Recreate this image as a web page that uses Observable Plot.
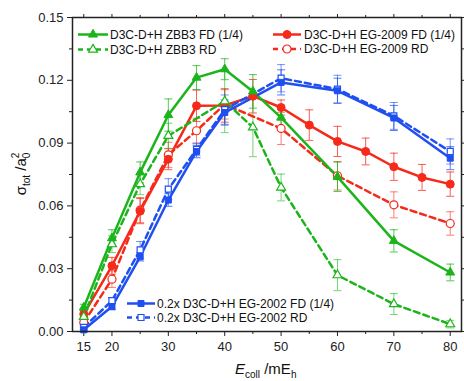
<!DOCTYPE html>
<html><head><meta charset="utf-8">
<script src="https://cdn.jsdelivr.net/npm/d3@7"></script>
<script src="https://cdn.jsdelivr.net/npm/@observablehq/plot@0.6"></script>
<style>body{margin:0;background:#fff;} svg{display:block;}</style>
</head><body><div id="chart"></div>
<script>
// ---- data ----
const xZbbFD = [15,20,25,30,35,40,45,50,60,70,80];
const zbbFD = [0.0115,0.0446,0.0760,0.1034,0.1213,0.1253,0.1147,0.1022,0.0739,0.0433,0.0282];
const zbbFDErr = [0.0015,0.004,0.005,0.0077,0.0057,0.005,0.008,0.005,0.007,0.0053,0.004];

const xZbbRD = [15,20,25,30,40,45,50,60,70,80];
const zbbRD = [0.007,0.0417,0.0704,0.0935,0.110,0.0975,0.0688,0.0269,0.0131,0.0035];
const zbbRDErr = [0.002,0.004,0.005,0.006,0.015,0.014,0.0064,0.0074,0.005,0.0018];

const xEg09FD = [15,20,25,30,35,40,45,50,55,60,65,70,75,80];
const eg09FD = [0.0083,0.0314,0.0575,0.0823,0.1078,0.1080,0.1124,0.1070,0.0986,0.0908,0.0860,0.0787,0.0736,0.0704];
const eg09FDErr = [0.0015,0.004,0.006,0.005,0.0075,0.008,0.008,0.0036,0.0073,0.0072,0.0064,0.0065,0.0062,0.0058];

const xEg09RD = [15,20,25,30,35,40,50,60,70,80];
const eg09RD = [0.0043,0.025,0.058,0.0844,0.0959,0.1085,0.097,0.0744,0.0605,0.0516];
const eg09RDErr = [0.0015,0.004,0.006,0.006,0.006,0.007,0.0077,0.0068,0.0062,0.0056];

const xEg02 = [15,20,25,30,35,40,50,60,70,80];
const eg02FD = [0.0008,0.0119,0.0357,0.0628,0.086,0.1046,0.119,0.115,0.102,0.0828];
const eg02FDErr = [0.001,0.0015,0.002,0.003,0.003,0.006,0.006,0.006,0.006,0.0055];
const eg02RD = [0.002,0.0147,0.039,0.068,0.087,0.106,0.121,0.1158,0.103,0.086];
const eg02RDErr = [0.001,0.0015,0.004,0.005,0.003,0.007,0.0065,0.0066,0.0064,0.006];

const xTicks = [15,20,30,40,50,60,70,80];
const xMinor = [25,35,45,55,65,75];
const yTicks = [0,0.03,0.06,0.09,0.12,0.15];
const yMinor = [0.015,0.045,0.075,0.105,0.135];

const GREEN = "#1bb51b", RED = "#f52a1a", BLUE = "#1f4ff0";
const series = [
  {name:"D3C-D+H EG-2009 RD", x:xEg09RD, y:eg09RD, e:eg09RDErr, color:RED, sym:"circle", open:true},
  {name:"D3C-D+H EG-2009 FD (1/4)", x:xEg09FD, y:eg09FD, e:eg09FDErr, color:RED, sym:"circle", open:false},
  {name:"D3C-D+H ZBB3 RD", x:xZbbRD, y:zbbRD, e:zbbRDErr, color:GREEN, sym:"triangle", open:true},
  {name:"D3C-D+H ZBB3 FD (1/4)", x:xZbbFD, y:zbbFD, e:zbbFDErr, color:GREEN, sym:"triangle", open:false},
  {name:"0.2x D3C-D+H EG-2002 RD", x:xEg02, y:eg02RD, e:eg02RDErr, color:BLUE, sym:"square", open:true},
  {name:"0.2x D3C-D+H EG-2002 FD (1/4)", x:xEg02, y:eg02FD, e:eg02FDErr, color:BLUE, sym:"square", open:false}
];
const symR = {circle:4, triangle:3.3, square:3.4};
const cap = {draw(ctx){ ctx.moveTo(-4,0); ctx.lineTo(4,0); }};

const marks = [];
for (const s of series) {
  const d = s.x.map((x,i)=>({x, y:s.y[i], lo:s.y[i]-s.e[i], hi:s.y[i]+s.e[i]}));
  const eo = s.open ? 0.6 : 0.75;
  marks.push(Plot.ruleX(d, {x:"x", y1:"lo", y2:"hi", stroke:s.color, strokeWidth:1, strokeOpacity:eo}));
  marks.push(Plot.dot(d, {x:"x", y:"hi", symbol:cap, fill:"none", stroke:s.color, strokeWidth:1, strokeOpacity:eo}));
  marks.push(Plot.dot(d, {x:"x", y:"lo", symbol:cap, fill:"none", stroke:s.color, strokeWidth:1, strokeOpacity:eo}));
  s.data = d;
}
for (const s of series) {
  marks.push(Plot.line(s.data, {x:"x", y:"y", stroke:s.color, strokeWidth:2.5, strokeDasharray: s.open ? "6,4" : null}));
}
for (const s of series) {
  marks.push(Plot.dot(s.data, {x:"x", y:"y", symbol:s.sym, r:symR[s.sym], fill: s.open ? "white" : s.color, stroke:s.color, strokeWidth: s.open ? 1.2 : 1}));
}

const fmt = d3.format(".2f");
const chart = Plot.plot({
  width:464, height:381,
  marginLeft:72, marginRight:3, marginTop:17, marginBottom:50,
  style:{fontFamily:"'Liberation Sans', Arial, sans-serif", color:"#222", background:"white"},
  x:{domain:[13,82], label:null},
  y:{domain:[0,0.15], label:null},
  marks:[
    Plot.axisX({ticks:xTicks, tickSize:5, tickPadding:5, fontSize:13, label:null, tickFormat:d=>String(d)}),
    Plot.axisX({ticks:xMinor, tickSize:3, label:null, tickFormat:()=>""}),
    Plot.axisX({anchor:"top", ticks:xTicks, tickSize:4, label:null, tickFormat:()=>""}),
    Plot.axisX({anchor:"top", ticks:xMinor, tickSize:3, label:null, tickFormat:()=>""}),
    Plot.axisY({ticks:yTicks, tickSize:5, tickPadding:4, fontSize:13, label:null, tickFormat:fmt}),
    Plot.axisY({ticks:yMinor, tickSize:3, label:null, tickFormat:()=>""}),
    Plot.axisY({anchor:"right", ticks:yTicks, tickSize:5, label:null, tickFormat:()=>""}),
    Plot.axisY({anchor:"right", ticks:yMinor, tickSize:3, label:null, tickFormat:()=>""}),
    ...marks,
    Plot.frame({stroke:"#222", strokeWidth:1.5})
  ]
});
document.getElementById("chart").appendChild(chart);

// ---- legends & axis titles ----
const svg = d3.select(chart);
const font = "'Liberation Sans', Arial, sans-serif";
const byName = Object.fromEntries(series.map(s=>[s.name, s]));
function legendItem(name, x0, x1, y, tx) {
  const s = byName[name];
  const g = svg.append("g");
  g.append("line").attr("x1",x0).attr("x2",x1).attr("y1",y).attr("y2",y)
    .attr("stroke",s.color).attr("stroke-width",2.5).attr("stroke-dasharray", s.open ? "5,4" : null);
  const type = {circle:d3.symbolCircle, triangle:d3.symbolTriangle, square:d3.symbolSquare}[s.sym];
  const r = symR[s.sym];
  g.append("path").attr("d", d3.symbol(type, Math.PI*r*r)()).attr("transform",`translate(${(x0+x1)/2},${y})`)
    .attr("fill", s.open ? "white" : s.color).attr("stroke", s.color).attr("stroke-width", s.open ? 1.2 : 1);
  g.append("text").attr("x",tx).attr("y",y).attr("dy","0.35em").attr("text-anchor","start")
    .attr("font-family",font).attr("font-size",12).attr("fill","#111").text(name);
}
legendItem("D3C-D+H ZBB3 FD (1/4)", 78, 108, 34.5, 110);
legendItem("D3C-D+H ZBB3 RD", 78, 108, 49.5, 110);
legendItem("D3C-D+H EG-2009 FD (1/4)", 273, 301, 34.5, 304);
legendItem("D3C-D+H EG-2009 RD", 273, 301, 49, 304);
legendItem("0.2x D3C-D+H EG-2002 FD (1/4)", 127, 155, 303.5, 157);
legendItem("0.2x D3C-D+H EG-2002 RD", 127, 155, 317.5, 157);

// x title
const xt = svg.append("text").attr("x",235).attr("y",374).attr("text-anchor","start")
  .attr("font-family",font).attr("font-size",15).attr("fill","#111");
xt.append("tspan").attr("font-style","italic").text("E");
xt.append("tspan").attr("font-size",10).attr("dy",3.5).text("coll");
xt.append("tspan").attr("dy",-3.5).text(" /mE");
xt.append("tspan").attr("font-size",10).attr("dy",3.5).text("h");

// y title
const yt = svg.append("text").attr("transform","translate(25.5,174) rotate(-90)").attr("text-anchor","middle")
  .attr("font-family",font).attr("font-size",15).attr("fill","#111");
yt.append("tspan").text("σ");
yt.append("tspan").attr("font-size",10).attr("dy",4).text("tot");
yt.append("tspan").attr("dy",-4).text(" /a");
yt.append("tspan").attr("font-size",10).attr("dy",4).text("0");
yt.append("tspan").attr("font-size",10).attr("dx",-5.6).attr("dy",-11).text("2");
</script>
</body></html>
